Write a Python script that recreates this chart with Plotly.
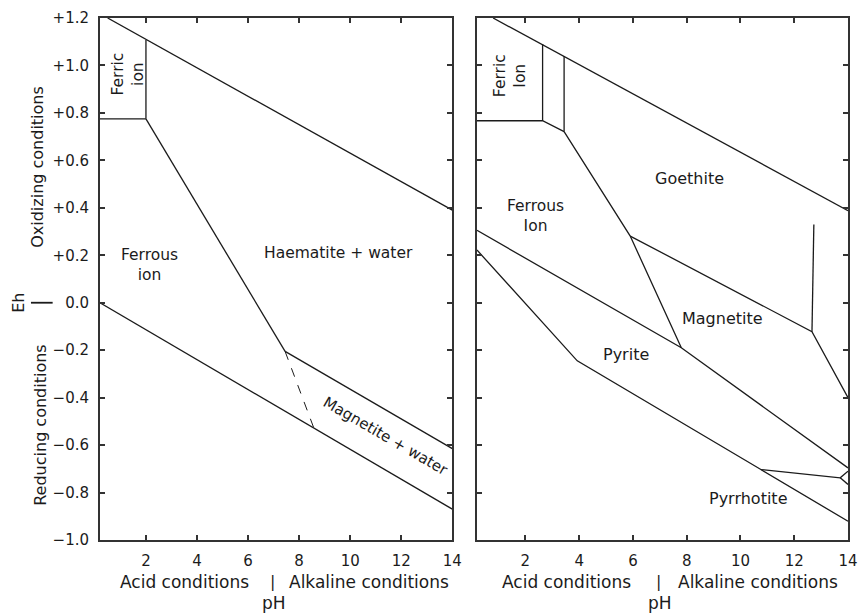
import plotly.graph_objects as go

# ---- Eh-pH boundaries, iron-oxygen-water system (left diagram) ----
upper_water_l_ph = [0.5, 14.0]
upper_water_l_eh = [1.2, 0.39]

ferric_floor_l_ph = [0.2, 2.0]
ferric_floor_l_eh = [0.775, 0.775]

ferric_edge_l_ph = [2.0, 2.0]
ferric_edge_l_eh = [0.775, 1.107]

ferrous_haem_l_ph = [2.0, 7.45]
ferrous_haem_l_eh = [0.775, -0.205]

ferrous_mag_l_ph = [7.45, 8.6]
ferrous_mag_l_eh = [-0.205, -0.535]

haem_mag_l_ph = [7.45, 14.0]
haem_mag_l_eh = [-0.205, -0.615]

lower_water_l_ph = [0.2, 14.0]
lower_water_l_eh = [0.0, -0.87]

# ---- Eh-pH boundaries, iron-sulphur-oxygen-water system (right diagram) ----
upper_water_r_ph = [0.8, 14.0]
upper_water_r_eh = [1.2, 0.388]

ferric_floor_r_ph = [0.2, 2.64, 3.44]
ferric_floor_r_eh = [0.767, 0.767, 0.721]

ferric_edge_r_ph = [2.64, 2.64]
ferric_edge_r_eh = [0.767, 1.09]

second_edge_r_ph = [3.44, 3.44]
second_edge_r_eh = [0.721, 1.04]

ferrous_oxide_r_ph = [3.44, 5.9, 7.8]
ferrous_oxide_r_eh = [0.721, 0.281, -0.19]

goethite_mag_r_ph = [5.9, 12.66, 14.0]
goethite_mag_r_eh = [0.281, -0.122, -0.40]

vertical_r_ph = [12.73, 12.66]
vertical_r_eh = [0.33, -0.122]

pyrite_upper_r_ph = [0.2, 7.8, 14.0]
pyrite_upper_r_eh = [0.305, -0.19, -0.696]

pyrite_lower_r_ph = [0.2, 3.93, 10.76, 14.0]
pyrite_lower_r_eh = [0.222, -0.245, -0.703, -0.921]

pyrrhotite_top_r_ph = [10.76, 13.71, 14.0]
pyrrhotite_top_r_eh = [-0.703, -0.738, -0.71]

pyrrhotite_notch_r_ph = [13.71, 14.0]
pyrrhotite_notch_r_eh = [-0.738, -0.766]

# ---- axis ticks ----
ph_ticks = [2, 4, 6, 8, 10, 12, 14]
eh_ticks = [1.2, 1.0, 0.8, 0.6, 0.4, 0.2, 0.0, -0.2, -0.4, -0.6, -0.8, -1.0]
eh_ticktext = ["+1.2", "+1.0", "+0.8", "+0.6", "+0.4", "+0.2", "0.0",
               "\u22120.2", "\u22120.4", "\u22120.6", "\u22120.8", "\u22121.0"]

FONT = "DejaVu Sans"
INK = "#1b1b1b"
FRAME = "#333333"

fig = go.Figure()


def boundary(ph, eh, panel, dash="solid", width=1.3):
    fig.add_trace(go.Scatter(
        x=ph, y=eh, mode="lines",
        line=dict(color=INK, width=width, dash=dash),
        xaxis="x" if panel == 1 else "x2",
        yaxis="y" if panel == 1 else "y2",
        hoverinfo="skip", showlegend=False,
    ))


boundary(upper_water_l_ph, upper_water_l_eh, 1)
boundary(ferric_floor_l_ph, ferric_floor_l_eh, 1)
boundary(ferric_edge_l_ph, ferric_edge_l_eh, 1)
boundary(ferrous_haem_l_ph, ferrous_haem_l_eh, 1)
boundary(ferrous_mag_l_ph, ferrous_mag_l_eh, 1, dash="dash", width=1.0)
boundary(haem_mag_l_ph, haem_mag_l_eh, 1)
boundary(lower_water_l_ph, lower_water_l_eh, 1)

boundary(upper_water_r_ph, upper_water_r_eh, 2)
boundary(ferric_floor_r_ph, ferric_floor_r_eh, 2)
boundary(ferric_edge_r_ph, ferric_edge_r_eh, 2)
boundary(second_edge_r_ph, second_edge_r_eh, 2)
boundary(ferrous_oxide_r_ph, ferrous_oxide_r_eh, 2)
boundary(goethite_mag_r_ph, goethite_mag_r_eh, 2)
boundary(vertical_r_ph, vertical_r_eh, 2)
boundary(pyrite_upper_r_ph, pyrite_upper_r_eh, 2)
boundary(pyrite_lower_r_ph, pyrite_lower_r_eh, 2)
boundary(pyrrhotite_top_r_ph, pyrrhotite_top_r_eh, 2)
boundary(pyrrhotite_notch_r_ph, pyrrhotite_notch_r_eh, 2)

annotations = []


def label(text, x, y, panel, size=16, angle=0):
    annotations.append(dict(
        text=text, x=x, y=y,
        xref="x" if panel == 1 else "x2",
        yref="y" if panel == 1 else "y2",
        showarrow=False, textangle=angle,
        font=dict(family=FONT, size=size, color=INK),
    ))


# region names
label("Ferric<br>ion", 1.28, 0.964, 1, size=15.5, angle=-90)
label("Ferrous<br>ion", 2.13, 0.161, 1, size=15.5)
label("Haematite + water", 9.55, 0.211, 1, size=15.5)
label("Magnetite + water", 11.37, -0.563, 1, size=15, angle=30)

label("Ferric<br>Ion", 1.41, 0.957, 2, size=15.5, angle=-90)
label("Ferrous<br>Ion", 2.39, 0.367, 2, size=15.5)
label("Goethite", 8.11, 0.523, 2)
label("Magnetite", 9.32, -0.066, 2)
label("Pyrite", 5.75, -0.217, 2)
label("Pyrrhotite", 10.27, -0.825, 2)


def paper_text(text, x, y, size=17, angle=0):
    annotations.append(dict(
        text=text, x=x, y=y, xref="paper", yref="paper",
        showarrow=False, textangle=angle,
        xanchor="center", yanchor="middle",
        font=dict(family=FONT, size=size, color=INK),
    ))


# pH axis captions under each diagram
for acid_x, bar_x, alk_x in [(0.1135, 0.231, 0.359), (0.624, 0.7467, 0.88)]:
    paper_text("Acid conditions", acid_x, -0.0805)
    paper_text("|", bar_x, -0.0795, size=16)
    paper_text("Alkaline conditions", alk_x, -0.0805)
    paper_text("pH", bar_x + 0.002, -0.1207)

# Eh axis captions
paper_text("Oxidizing conditions", -0.0831, 0.7146, size=16, angle=-90)
paper_text("Reducing conditions", -0.0805, 0.2203, size=16, angle=-90)
annotations.append(dict(
    text="Eh", x=-0.1082, y=0.0, xref="paper", yref="y",
    showarrow=False, textangle=-90, xanchor="center", yanchor="middle",
    font=dict(family=FONT, size=16, color=INK),
))

fig.add_shape(type="line", xref="paper", yref="y",
              x0=-0.0923, x1=-0.0633, y0=0.0, y1=0.0,
              line=dict(color=INK, width=1.8))

axis_common = dict(
    showgrid=False, zeroline=False,
    showline=True, linewidth=2, linecolor=FRAME, mirror="ticks",
    ticks="inside", ticklen=5, tickwidth=1.5, tickcolor=FRAME,
    tickfont=dict(family=FONT, size=15, color=INK),
)

fig.update_layout(
    width=867, height=615,
    margin=dict(l=100, r=9, t=18, b=75),
    paper_bgcolor="white", plot_bgcolor="white",
    showlegend=False,
    annotations=annotations,
    xaxis=dict(domain=[0.0, 0.471], range=[0.2, 14.0], tickvals=ph_ticks,
               anchor="y", ticklabelstandoff=6, **axis_common),
    yaxis=dict(range=[-1.0, 1.2], tickvals=eh_ticks, ticktext=eh_ticktext,
               anchor="x", ticklabelstandoff=6, **axis_common),
    xaxis2=dict(domain=[0.504, 1.0], range=[0.2, 14.0], tickvals=ph_ticks,
                anchor="y2", ticklabelstandoff=6, **axis_common),
    yaxis2=dict(range=[-1.0, 1.2], tickvals=eh_ticks, anchor="x2",
                showticklabels=False, **axis_common),
)

fig.write_html("out.html")
